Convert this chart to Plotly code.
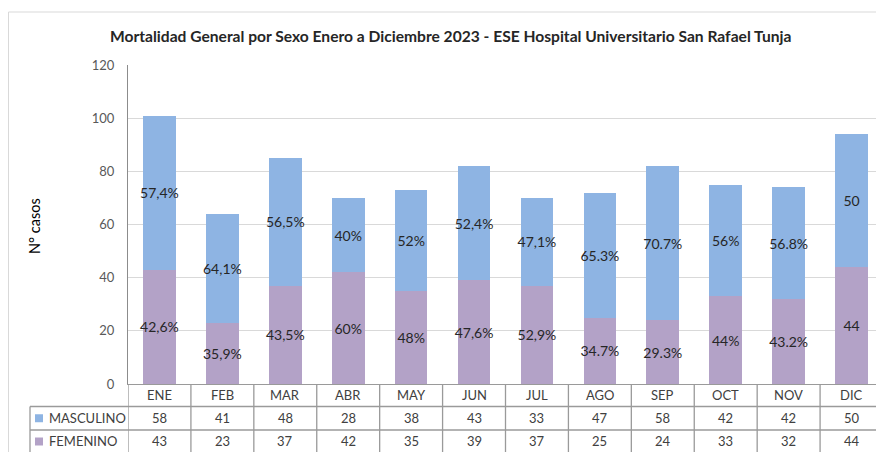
import plotly.graph_objects as go

# ---------------- data ----------------
months = ["ENE", "FEB", "MAR", "ABR", "MAY", "JUN", "JUL", "AGO", "SEP", "OCT", "NOV", "DIC"]
masculino = [58, 41, 48, 28, 38, 43, 33, 47, 58, 42, 42, 50]
femenino = [43, 23, 37, 42, 35, 39, 37, 25, 24, 33, 32, 44]
masc_labels = ["57,4%", "64,1%", "56,5%", "40%", "52%", "52,4%", "47,1%", "65.3%", "70.7%", "56%", "56.8%", "50"]
fem_labels = ["42,6%", "35,9%", "43,5%", "60%", "48%", "47,6%", "52,9%", "34.7%", "29.3%", "44%", "43.2%", "44"]
y_ticks = [0, 20, 40, 60, 80, 100, 120]
title = "Mortalidad General por Sexo Enero a Diciembre 2023 - ESE Hospital Universitario San Rafael Tunja"
y_title = "N° casos"

# ---------------- style / layout ----------------
# the page body has an 8px margin, so the figure is drawn 8px in from the top-left
OFF = 8
WIN_W, WIN_H = 884, 452
W, H = WIN_W - OFF, WIN_H - OFF
# target pixel geometry in window coordinates
PL, PR, PT, PB = 128, 883, 65, 384
L, R, T, B = PL - OFF, WIN_W - PR, PT - OFF, WIN_H - PB
PW, PH = PR - PL, PB - PT
FONT = "Lato"
C_MASC = "#8EB4E3"
C_FEM = "#B3A2C7"
GRID = "#D9D9D9"
TLINE = "#9A9A9A"
TXT = "#404040"


def px(x):
    return (x - PL) / PW


def py(y):
    return (PB - y) / PH


fig = go.Figure()
fig.add_trace(go.Bar(
    name="FEMENINO", x=months, y=femenino, marker=dict(color=C_FEM, line=dict(width=0)),
    text=fem_labels, textposition="inside", insidetextanchor="middle", textangle=0,
    constraintext="none", textfont=dict(family=FONT, size=14, color="#262626"),
    hoverinfo="skip",
))
fig.add_trace(go.Bar(
    name="MASCULINO", x=months, y=masculino, marker=dict(color=C_MASC, line=dict(width=0)),
    text=masc_labels, textposition="inside", insidetextanchor="middle", textangle=0,
    constraintext="none", textfont=dict(family=FONT, size=14, color="#262626"),
    hoverinfo="skip",
))

shapes = []
annotations = []

# outer chart frame
shapes.append(dict(type="rect", xref="paper", yref="paper",
                   x0=px(OFF + 0.5), x1=px(WIN_W + 20), y0=py(WIN_H + 20), y1=py(12),
                   line=dict(color=GRID, width=1), fillcolor="rgba(0,0,0,0)", layer="below"))

# data table grid
row_y = [PB, 406.5, 430, 454]
for yy in row_y[1:]:
    shapes.append(dict(type="line", xref="paper", yref="paper",
                       x0=px(30), x1=1, y0=py(yy), y1=py(yy),
                       line=dict(color=TLINE, width=1.3)))
shapes.append(dict(type="line", xref="paper", yref="paper",
                   x0=px(30), x1=px(30), y0=py(row_y[1]), y1=py(row_y[3]),
                   line=dict(color=TLINE, width=1.3)))
for i in range(len(months) + 1):
    shapes.append(dict(type="line", xref="x", yref="paper",
                       x0=i - 0.5, x1=i - 0.5, y0=0, y1=py(row_y[3]),
                       line=dict(color=TLINE, width=1.3)))

hdr_y = py((row_y[0] + row_y[1]) / 2)
m_y = py((row_y[1] + row_y[2]) / 2)
f_y = py((row_y[2] + row_y[3]) / 2 - 0.5)
for i, m in enumerate(months):
    annotations.append(dict(x=m, y=hdr_y, xref="x", yref="paper", text=m, showarrow=False,
                            font=dict(family=FONT, size=13, color=TXT), yanchor="middle"))
    annotations.append(dict(x=m, y=m_y, xref="x", yref="paper", text=str(masculino[i]), showarrow=False,
                            font=dict(family=FONT, size=13, color=TXT), yanchor="middle"))
    annotations.append(dict(x=m, y=f_y, xref="x", yref="paper", text=str(femenino[i]), showarrow=False,
                            font=dict(family=FONT, size=13, color=TXT), yanchor="middle"))

# legend keys inside table
for name, col, yc in [("MASCULINO", C_MASC, (row_y[1] + row_y[2]) / 2),
                      ("FEMENINO", C_FEM, (row_y[2] + row_y[3]) / 2 - 0.5)]:
    shapes.append(dict(type="rect", xref="paper", yref="paper",
                       x0=px(35), x1=px(43), y0=py(yc + 4), y1=py(yc - 4),
                       line=dict(width=0), fillcolor=col))
    annotations.append(dict(x=px(47), y=py(yc), xref="paper", yref="paper", text=name,
                            showarrow=False, xanchor="left", yanchor="middle",
                            font=dict(family=FONT, size=13, color=TXT)))

# y-axis title
annotations.append(dict(x=px(34), y=py(226), xref="paper", yref="paper", text=y_title,
                        textangle=-90, showarrow=False, xanchor="center", yanchor="middle",
                        font=dict(family=FONT, size=14.5, color="#000000")))

# title
annotations.append(dict(x=px(451), y=py(36), xref="paper", yref="paper", text=title,
                        showarrow=False, xanchor="center", yanchor="middle",
                        font=dict(family=FONT, size=15.6, color="#262626", weight="bold")))

fig.update_layout(
    width=W, height=H,
    margin=dict(l=L, r=R, t=T, b=B, pad=0),
    paper_bgcolor="white", plot_bgcolor="white",
    barmode="stack", bargap=0.48,
    showlegend=False,
    xaxis=dict(range=[-0.5, len(months) - 0.5], showticklabels=False, showgrid=False,
               showline=True, linecolor=TLINE, linewidth=1.3, ticks="", zeroline=False),
    yaxis=dict(range=[0, 120], tickvals=y_ticks, showgrid=True, gridcolor=GRID, gridwidth=1,
               showline=True, linecolor="#8C8C8C", linewidth=1, ticks="", zeroline=False,
               tickfont=dict(family=FONT, size=13, color="#595959"), ticklabelstandoff=10),
    shapes=shapes,
    annotations=annotations,
    font=dict(family=FONT),
)

fig.write_html("out.html", config={"displayModeBar": False})
